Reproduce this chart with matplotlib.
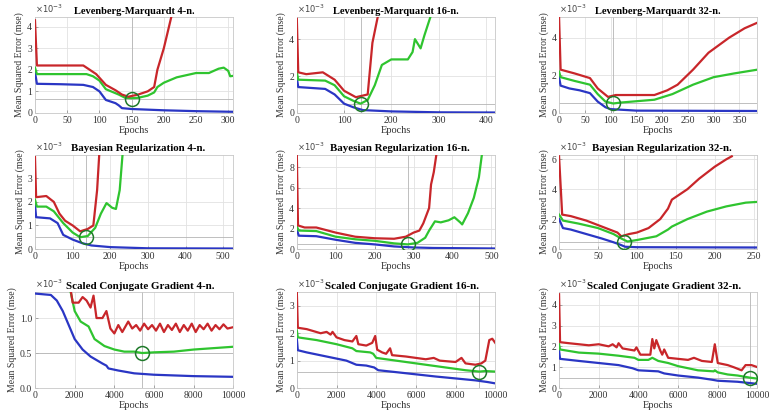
import matplotlib
matplotlib.use("Agg")
import matplotlib.pyplot as plt

plt.rcParams['font.family'] = ['Liberation Serif', 'DejaVu Serif']

# colours of the three curves (train / validation / test) and the best marker
c_train = '#2a36c4'
c_val = '#2fc42f'
c_test = '#c8262a'
c_best = '#1f7a2a'

# ---------------- Levenberg-Marquardt 4-n. ----------------
lm4_train_x = [0, 3, 40, 75, 90, 100, 110, 125, 130, 135, 150, 200, 250, 308]
lm4_train_y = [1.9, 1.35, 1.33, 1.3, 1.2, 1.0, 0.6, 0.45, 0.35, 0.22, 0.18, 0.12, 0.08, 0.05]
lm4_val_x = [0, 3, 80, 90, 100, 110, 130, 140, 150, 160, 175, 185, 190, 200, 220, 250, 270, 285, 293, 300, 303, 308]
lm4_val_y = [2.1, 1.8, 1.8, 1.7, 1.5, 1.1, 0.85, 0.7, 0.68, 0.7, 0.8, 0.95, 1.2, 1.4, 1.65, 1.85, 1.85, 2.05, 2.1, 1.95, 1.7, 1.72]
lm4_test_x = [0, 3, 75, 80, 95, 110, 125, 135, 145, 160, 175, 185, 190, 200, 212]
lm4_test_y = [4.3, 2.2, 2.2, 2.1, 1.8, 1.3, 1.05, 0.85, 0.75, 0.85, 1.0, 1.2, 2.0, 3.0, 4.5]
lm4_best = (150, 0.65)

# ---------------- Levenberg-Marquardt 16-n. ----------------
lm16_train_x = [0, 3, 60, 80, 100, 120, 140, 200, 300, 420]
lm16_train_y = [1.9, 1.4, 1.3, 1.0, 0.5, 0.3, 0.15, 0.08, 0.03, 0.02]
lm16_val_x = [0, 3, 60, 80, 100, 120, 135, 150, 165, 180, 200, 235, 245, 250, 262, 270, 284]
lm16_val_y = [2.2, 1.8, 1.75, 1.5, 0.9, 0.65, 0.5, 0.7, 1.5, 2.6, 2.9, 2.9, 3.3, 4.0, 3.5, 4.2, 5.3]
lm16_test_x = [0, 3, 20, 55, 80, 100, 125, 150, 160, 172]
lm16_test_y = [5.1, 2.2, 2.1, 2.2, 1.8, 1.2, 0.85, 1.0, 3.8, 5.3]
lm16_best = (135, 0.5)

# ---------------- Levenberg-Marquardt 32-n. ----------------
lm32_train_x = [0, 3, 20, 40, 60, 75, 90, 100, 150, 385]
lm32_train_y = [1.9, 1.45, 1.3, 1.2, 1.05, 0.6, 0.3, 0.2, 0.12, 0.1]
lm32_val_x = [0, 3, 30, 60, 75, 90, 105, 120, 185, 220, 260, 300, 340, 385]
lm32_val_y = [2.2, 1.9, 1.7, 1.5, 1.0, 0.6, 0.5, 0.55, 0.7, 1.0, 1.5, 1.9, 2.1, 2.3]
lm32_test_x = [0, 3, 30, 60, 75, 95, 110, 185, 210, 230, 260, 290, 330, 360, 385]
lm32_test_y = [5.1, 2.3, 2.1, 1.85, 1.3, 0.85, 0.95, 0.95, 1.2, 1.5, 2.3, 3.2, 4.0, 4.5, 4.8]
lm32_best = (105, 0.5)

# ---------------- Bayesian Regularization 4-n. ----------------
br4_train_x = [0, 3, 40, 60, 75, 100, 125, 150, 200, 300, 527]
br4_train_y = [1.9, 1.35, 1.3, 1.1, 0.6, 0.4, 0.25, 0.15, 0.08, 0.03, 0.02]
br4_val_x = [0, 5, 30, 50, 75, 100, 120, 140, 160, 175, 190, 205, 215, 225, 233]
br4_val_y = [2.1, 1.8, 1.8, 1.6, 1.1, 0.7, 0.5, 0.55, 0.9, 1.5, 1.95, 1.75, 1.7, 2.5, 4.1]
br4_test_x = [0, 3, 30, 50, 65, 80, 100, 120, 140, 155, 165, 171]
br4_test_y = [3.9, 2.2, 2.25, 2.0, 1.5, 1.2, 1.0, 0.75, 0.85, 1.0, 2.5, 4.1]
br4_best = (135, 0.5)

# ---------------- Bayesian Regularization 16-n. ----------------
br16_train_x = [0, 5, 50, 100, 150, 200, 250, 300, 350, 510]
br16_train_y = [1.9, 1.3, 1.25, 0.9, 0.6, 0.45, 0.25, 0.15, 0.1, 0.05]
br16_val_x = [0, 5, 50, 100, 150, 200, 250, 285, 310, 330, 340, 355, 370, 390, 405, 420, 425, 440, 455, 468, 476]
br16_val_y = [2.2, 1.8, 1.75, 1.2, 0.95, 0.8, 0.55, 0.45, 0.6, 1.1, 1.8, 2.7, 2.6, 2.8, 3.1, 2.6, 2.4, 3.5, 5.0, 7.0, 9.3]
br16_test_x = [0, 3, 20, 50, 100, 150, 200, 250, 280, 300, 315, 325, 340, 345, 352, 359]
br16_test_y = [9.2, 2.3, 2.1, 2.1, 1.6, 1.2, 1.05, 1.0, 1.2, 1.6, 1.8, 2.5, 4.0, 6.3, 7.5, 9.3]
br16_best = (285, 0.5)

# ---------------- Bayesian Regularization 32-n. ----------------
br32_train_x = [0, 5, 15, 35, 55, 70, 78, 85, 100, 255]
br32_train_y = [2.0, 1.4, 1.3, 1.0, 0.7, 0.45, 0.3, 0.15, 0.12, 0.1]
br32_val_x = [0, 5, 25, 50, 70, 80, 88, 100, 125, 140, 145, 165, 190, 215, 240, 255]
br32_val_y = [2.3, 1.9, 1.7, 1.4, 1.0, 0.7, 0.5, 0.6, 0.85, 1.3, 1.5, 2.0, 2.5, 2.85, 3.1, 3.15]
br32_test_x = [0, 4, 15, 35, 55, 70, 75, 80, 90, 100, 115, 130, 140, 145, 165, 180, 200, 215, 222]
br32_test_y = [6.2, 2.3, 2.2, 1.9, 1.5, 1.2, 1.1, 0.85, 1.0, 1.1, 1.4, 2.0, 2.7, 3.3, 4.0, 4.7, 5.5, 6.0, 6.2]
br32_best = (83, 0.5)

# ---------------- Scaled Conjugate Gradient 4-n. ----------------
scg4_train_x = [0, 800, 1100, 1400, 1700, 2000, 2400, 2800, 3400, 3600, 3700, 4200, 5000, 6000, 8000, 10000]
scg4_train_y = [1.35, 1.33, 1.25, 1.1, 0.9, 0.7, 0.55, 0.45, 0.35, 0.32, 0.28, 0.25, 0.21, 0.19, 0.17, 0.16]
scg4_val_x = [0, 1000, 1700, 1800, 2000, 2300, 2700, 3000, 3500, 4000, 4500, 5000, 5400, 6000, 7000, 8000, 9000, 10000]
scg4_val_y = [1.8, 1.6, 1.42, 1.37, 1.1, 0.95, 0.88, 0.7, 0.6, 0.55, 0.52, 0.52, 0.5, 0.51, 0.52, 0.55, 0.57, 0.59]
scg4_test_x = [0, 1800, 1900, 2200, 2400, 2600, 2800, 2950, 3100, 3400, 3600, 3800, 4000, 4200, 4400, 4700,
               4900, 5100, 5300, 5500, 5700, 5900, 6100, 6300, 6500, 6700, 6900, 7100, 7300, 7500, 7700,
               7900, 8100, 8300, 8500, 8700, 8900, 9100, 9300, 9500, 9700, 10000]
scg4_test_y = [1.9, 1.4, 1.22, 1.22, 1.3, 1.25, 1.15, 1.32, 1.0, 1.0, 1.1, 0.85, 0.78, 0.9, 0.8, 0.95,
               0.85, 0.9, 0.82, 0.92, 0.84, 0.9, 0.82, 0.92, 0.8, 0.9, 0.83, 0.92, 0.8, 0.9, 0.82,
               0.92, 0.8, 0.9, 0.84, 0.92, 0.82, 0.9, 0.84, 0.91, 0.85, 0.87]
scg4_best = (5400, 0.5)

# ---------------- Scaled Conjugate Gradient 16-n. ----------------
scg16_train_x = [0, 50, 500, 1500, 2500, 3000, 3500, 3900, 4100, 5000, 6000, 7000, 8000, 9000, 9600, 10000]
scg16_train_y = [1.8, 1.38, 1.3, 1.15, 1.0, 0.85, 0.82, 0.75, 0.65, 0.58, 0.5, 0.42, 0.35, 0.28, 0.22, 0.17]
scg16_val_x = [0, 50, 1000, 2000, 2800, 3000, 3700, 3850, 4000, 4500, 5500, 6500, 7500, 8500, 9200, 9500, 10000]
scg16_val_y = [2.1, 1.85, 1.75, 1.6, 1.45, 1.35, 1.3, 1.25, 1.1, 1.05, 0.95, 0.85, 0.75, 0.65, 0.6, 0.62, 0.6]
scg16_test_x = [0, 50, 500, 1200, 1500, 1700, 1800, 2000, 2400, 2800, 3000, 3100, 3500, 3800, 3950, 4050,
                4300, 4500, 4700, 4800, 5500, 6500, 6900, 7200, 8000, 8300, 8500, 9000, 9300, 9500, 9700, 9850, 10000]
scg16_test_y = [3.5, 2.2, 2.15, 2.0, 2.05, 1.95, 2.05, 1.85, 1.75, 1.7, 1.9, 1.6, 1.55, 1.65, 1.9, 1.4,
                1.3, 1.25, 1.45, 1.2, 1.15, 1.05, 1.1, 1.0, 0.95, 1.1, 0.9, 0.85, 0.9, 1.0, 1.75, 1.8, 1.65]
scg16_best = (9200, 0.57)

# ---------------- Scaled Conjugate Gradient 32-n. ----------------
scg32_train_x = [0, 50, 1000, 2000, 3000, 3700, 4000, 5000, 5300, 6000, 7000, 7700, 8000, 9000, 10000]
scg32_train_y = [1.8, 1.4, 1.3, 1.2, 1.1, 0.95, 0.85, 0.8, 0.7, 0.6, 0.5, 0.4, 0.35, 0.3, 0.2]
scg32_val_x = [0, 50, 1000, 2000, 3000, 3800, 4000, 4500, 4700, 5000, 5500, 6000, 6500, 7000, 7800,
               7850, 8000, 8500, 9000, 9600, 10000]
scg32_val_y = [2.1, 1.85, 1.7, 1.65, 1.55, 1.45, 1.35, 1.35, 1.45, 1.3, 1.2, 1.05, 0.95, 0.85, 0.8,
               0.85, 0.75, 0.65, 0.6, 0.5, 0.45]
scg32_test_x = [0, 50, 500, 1500, 2000, 2500, 2700, 2900, 3000, 3200, 3800, 3900, 4100, 4600, 4700, 4800,
                4900, 5100, 5200, 5300, 5500, 6000, 6500, 6800, 7200, 7700, 7850, 8000, 8500, 8800, 9200,
                9400, 9700, 10000]
scg32_test_y = [4.5, 2.2, 2.15, 2.05, 2.1, 2.0, 2.1, 1.95, 2.15, 1.9, 1.8, 1.95, 1.6, 1.6, 2.35, 1.9,
                2.3, 1.8, 1.6, 1.85, 1.45, 1.4, 1.35, 1.45, 1.3, 1.25, 2.1, 1.2, 1.1, 1.0, 0.85,
                1.1, 1.1, 1.0]
scg32_best = (9600, 0.5)

panels = [
    ('Levenberg-Marquardt 4-n.', lm4_train_x, lm4_train_y, lm4_val_x, lm4_val_y, lm4_test_x, lm4_test_y,
     lm4_best, (0, 308), (0, 4.45), list(range(0, 301, 50)), [0, 1, 2, 3, 4]),
    ('Levenberg-Marquardt 16-n.', lm16_train_x, lm16_train_y, lm16_val_x, lm16_val_y, lm16_test_x, lm16_test_y,
     lm16_best, (0, 420), (0, 5.2), list(range(0, 401, 100)), [0, 2, 4]),
    ('Levenberg-Marquardt 32-n.', lm32_train_x, lm32_train_y, lm32_val_x, lm32_val_y, lm32_test_x, lm32_test_y,
     lm32_best, (0, 385), (0, 5.1), list(range(0, 351, 50)), [0, 2, 4]),
    ('Bayesian Regularization 4-n.', br4_train_x, br4_train_y, br4_val_x, br4_val_y, br4_test_x, br4_test_y,
     br4_best, (0, 527), (0, 4.0), list(range(0, 501, 100)), [0, 1, 2, 3]),
    ('Bayesian Regularization 16-n.', br16_train_x, br16_train_y, br16_val_x, br16_val_y, br16_test_x, br16_test_y,
     br16_best, (0, 510), (0, 9.2), list(range(0, 501, 100)), [0, 2, 4, 6, 8]),
    ('Bayesian Regularization 32-n.', br32_train_x, br32_train_y, br32_val_x, br32_val_y, br32_test_x, br32_test_y,
     br32_best, (0, 255), (0, 6.3), list(range(0, 251, 50)), [0, 2, 4, 6]),
    ('Scaled Conjugate Gradient 4-n.', scg4_train_x, scg4_train_y, scg4_val_x, scg4_val_y, scg4_test_x, scg4_test_y,
     scg4_best, (0, 10000), (0, 1.37), list(range(0, 10001, 2000)), [0, 0.5, 1]),
    ('Scaled Conjugate Gradient 16-n.', scg16_train_x, scg16_train_y, scg16_val_x, scg16_val_y, scg16_test_x, scg16_test_y,
     scg16_best, (0, 10000), (0, 3.5), list(range(0, 10001, 2000)), [0, 1, 2, 3]),
    ('Scaled Conjugate Gradient 32-n.', scg32_train_x, scg32_train_y, scg32_val_x, scg32_val_y, scg32_test_x, scg32_test_y,
     scg32_best, (0, 10000), (0, 4.6), list(range(0, 10001, 2000)), [0, 1, 2, 3, 4]),
]

fig = plt.figure(figsize=(7.69, 4.15), dpi=100)

col_left = [0.0455, 0.386, 0.727]
col_w = 0.258
row_bottom = [0.728, 0.400, 0.065]
row_h = [0.231, 0.227, 0.231]
title_size = [7.5, 7.8, 7.9]
title_x = [0.5, 0.52, 0.53]

for i, p in enumerate(panels):
    title, tx, ty, vx, vy, sx, sy, best, xl, yl, xt, yt = p
    r, c = divmod(i, 3)
    ax = fig.add_axes([col_left[c], row_bottom[r], col_w, row_h[r]])

    ax.plot(tx, ty, color=c_train, lw=1.6, zorder=3)
    ax.plot(vx, vy, color=c_val, lw=1.6, zorder=3)
    ax.plot(sx, sy, color=c_test, lw=1.6, zorder=3)

    # best validation point with its guide lines
    ax.axvline(best[0], color='#b4b4b4', lw=0.6, zorder=2)
    ax.axhline(best[1], color='#b4b4b4', lw=0.6, zorder=2)
    ax.plot([best[0]], [best[1]], 'o', mfc='none', mec=c_best, ms=10, mew=1.1, zorder=4)

    ax.set_xlim(xl)
    ax.set_ylim(yl)
    ax.set_xticks(xt)
    ax.set_yticks(yt)
    ax.grid(True, color='#e2e2e2', lw=0.6)
    ax.set_axisbelow(True)
    for s in ax.spines.values():
        s.set_color('#c8c8c8')
        s.set_linewidth(0.6)
    ax.tick_params(direction='in', length=2, width=0.5, color='#888888',
                   labelsize=7, labelcolor='#333333', pad=2)

    ax.text(title_x[r], 1.015, title, transform=ax.transAxes, fontsize=title_size[r],
            fontweight='bold', ha='center', va='bottom')
    ax.set_xlabel('Epochs', fontsize=7.5, color='#333333', labelpad=1)
    ax.set_ylabel('Mean Squared Error (mse)', fontsize=7, color='#333333', labelpad=2)
    ax.text(0.0, 1.02, r'$\times10^{-3}$', transform=ax.transAxes, fontsize=6,
            color='#444444', va='bottom', ha='left')

fig.savefig('out.png', dpi=100)
